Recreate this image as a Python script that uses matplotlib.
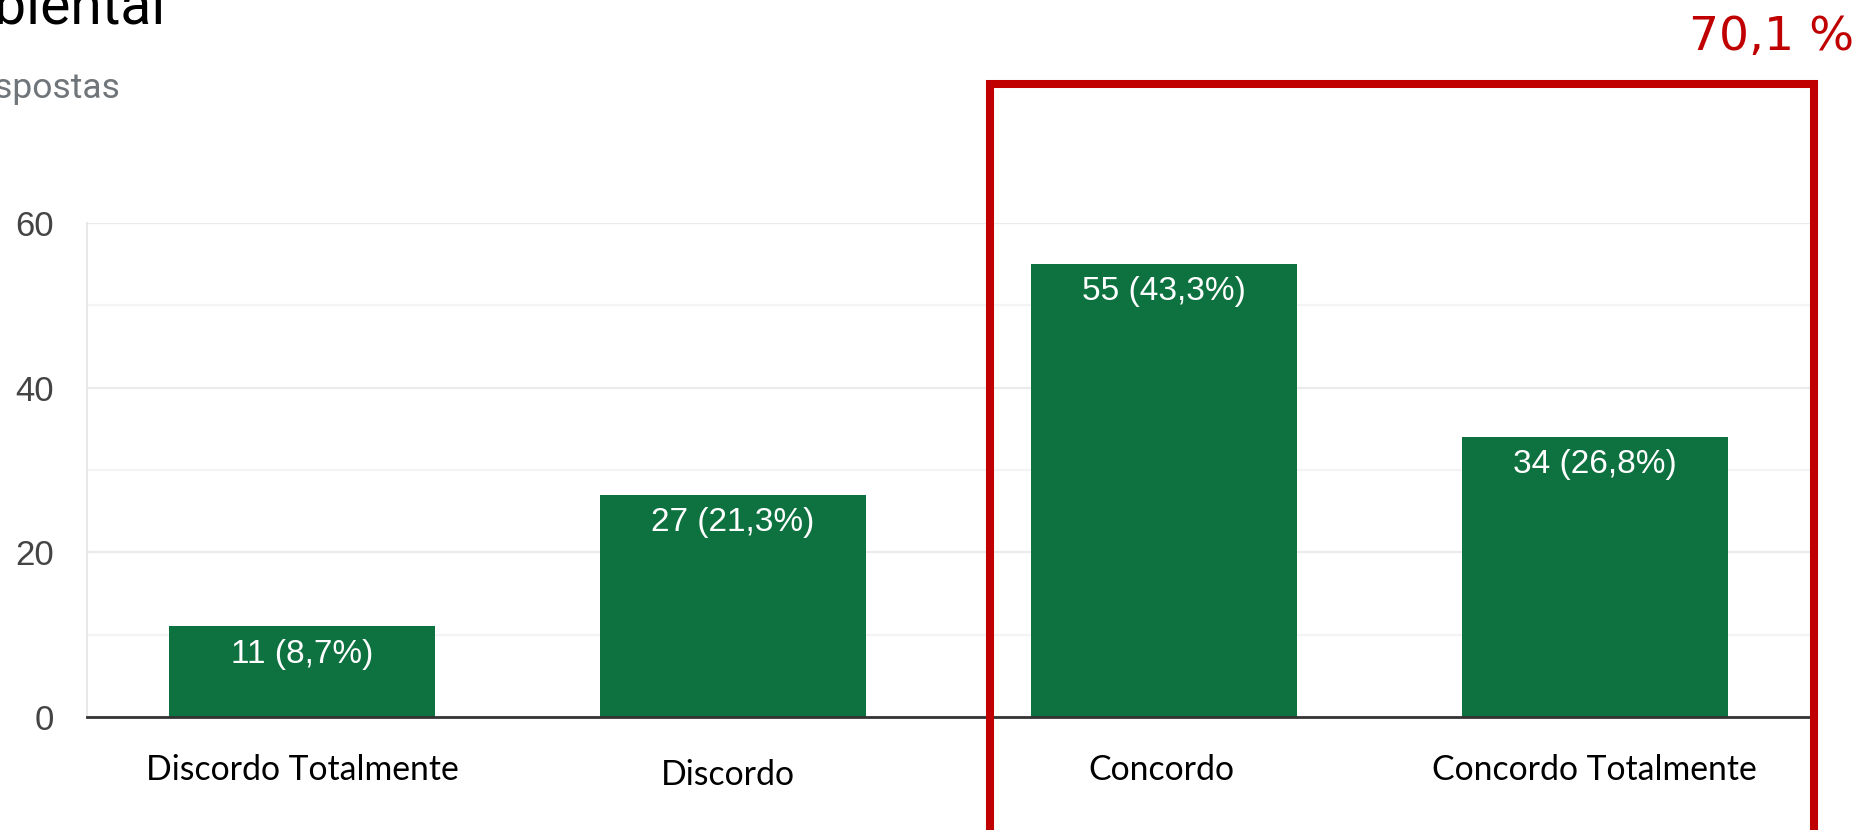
import matplotlib
matplotlib.use('Agg')
import matplotlib.pyplot as plt
from matplotlib.patches import Rectangle
import numpy as np

# data
categories = ['Discordo Totalmente', 'Discordo', 'Concordo', 'Concordo Totalmente']
counts = [11, 27, 55, 34]
percents = ['8,7%', '21,3%', '43,3%', '26,8%']
highlight_text = '70,1 %'
title_text = 'Ambiental'
subtitle_text = '127 respostas'

W, H, DPI = 1876, 830, 100
bar_color = '#0E7240'
red = '#C00000'

fig = plt.figure(figsize=(W / DPI, H / DPI), dpi=DPI, facecolor='white')
ax = fig.add_axes([87 / W, (H - 717) / H, (1810 - 87) / W, (717 - 223) / H])

x = np.arange(len(categories))
bars = ax.bar(x, counts, width=0.617, color=bar_color, zorder=3)

ax.set_xlim(-0.5, len(categories) - 0.5)
ax.set_ylim(0, 60)
ax.set_yticks([0, 20, 40, 60])
ax.set_yticks([10, 30, 50], minor=True)
ax.grid(axis='y', which='major', color='#ebebeb', lw=1.6, zorder=0)
ax.grid(axis='y', which='minor', color='#f4f4f4', lw=1.6, zorder=0)
ax.tick_params(axis='y', which='both', length=0, pad=24, labelsize=25,
               labelcolor='#444444')
for lab in ax.get_yticklabels():
    lab.set_fontfamily('Liberation Sans')

ax.set_xticks(x)
ax.set_xticklabels([])
ax.tick_params(axis='x', length=0)

for s in ['top', 'right']:
    ax.spines[s].set_visible(False)
ax.spines['left'].set_color('#e8e8e8')
ax.spines['left'].set_linewidth(1.5)
ax.spines['bottom'].set_color('#333333')
ax.spines['bottom'].set_linewidth(2.0)
ax.spines['bottom'].set_zorder(4)

# value labels inside bars
for xi, c, p in zip(x, counts, percents):
    ax.annotate(f'{c} ({p})', xy=(xi, c), xytext=(0, -26), textcoords='offset points',
                ha='center', va='baseline', color='white', fontsize=24,
                family='Liberation Sans', zorder=5)

# category labels (overlaid, slightly uneven as in the source)
label_dy = [-45.4, -49.0, -45.4, -45.4]
label_dx = [0, -4, -2, 0]
for xi, cat, dx, dy in zip(x, categories, label_dx, label_dy):
    ax.annotate(cat, xy=(xi, 0), xycoords=('data', 'axes fraction'),
                xytext=(dx, dy), textcoords='offset points',
                ha='center', va='baseline', color='black', fontsize=24.3,
                family='Lato', annotation_clip=False)

# cropped header texts
fig.text(165 / W, 1 - 23 / H, title_text, ha='right', va='baseline',
         fontsize=41, family='Roboto', color='black')
fig.text(120 / W, 1 - 98 / H, subtitle_text, ha='right', va='baseline',
         fontsize=25.5, family='Roboto', color='#70757a')

# red highlight box and total
box = Rectangle((990 / W, -0.2), (1814 - 990) / W, 0.2 + 1 - 84 / H,
                transform=fig.transFigure, fill=False, edgecolor=red,
                lw=5.8, clip_on=False, zorder=10)
fig.add_artist(box)
fig.text(1772 / W, 1 - 50 / H, highlight_text, ha='center', va='baseline',
         fontsize=34, family='DejaVu Sans', color=red)

fig.savefig('out.png', dpi=DPI, facecolor='white')
